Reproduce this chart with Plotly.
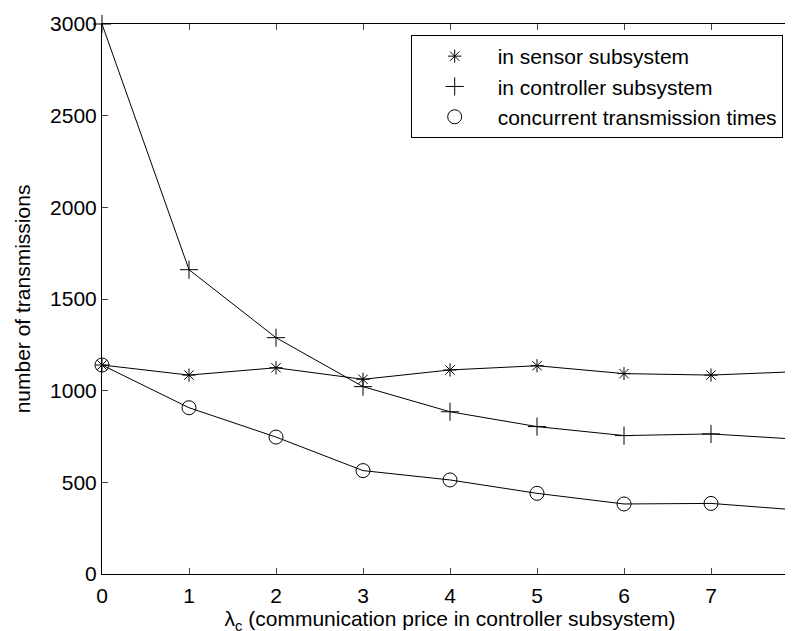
import plotly.graph_objects as go

x_vals = [0, 1, 2, 3, 4, 5, 6, 7, 8]
sensor = [1140, 1085, 1125, 1062, 1113, 1136, 1093, 1085, 1104]
controller = [3000, 1660, 1289, 1022, 885, 804, 755, 764, 735]
concurrent = [1140, 907, 747, 564, 513, 440, 382, 385, 349]
y_ticks = [0, 500, 1000, 1500, 2000, 2500, 3000]

names = ["in sensor subsystem", "in controller subsystem", "concurrent transmission times"]
symbols = ["asterisk-open", "cross-thin-open", "circle-open"]
sizes = [11, 13, 14]
series = [sensor, controller, concurrent]

fig = go.Figure()
for s, sym, sz in zip(series, symbols, sizes):
    fig.add_trace(go.Scatter(
        x=x_vals, y=s, mode="lines+markers",
        line=dict(color="black", width=1),
        marker=dict(symbol=sym, size=sz, color="black", line=dict(color="black", width=1)),
        showlegend=False, cliponaxis=False))
for n, sym, sz in zip(names, symbols, sizes):
    fig.add_trace(go.Scatter(
        x=[None], y=[None], mode="markers", name=n,
        marker=dict(symbol=sym, size=sz, color="black", line=dict(color="black", width=1))))

font = dict(family="Liberation Sans, Arial, sans-serif", size=21, color="black")
fig.update_layout(
    width=793, height=631,
    margin=dict(l=94, r=3, t=16, b=65),
    paper_bgcolor="white", plot_bgcolor="white",
    font=font,
    legend=dict(x=0.978, y=0.98, xanchor="right", yanchor="top",
                bordercolor="black", borderwidth=1, bgcolor="white",
                font=dict(size=21), tracegroupgap=0, itemwidth=76),
    xaxis=dict(range=[0, 8], tickvals=x_vals, ticks="inside", ticklen=6,
               showline=True, linecolor="black", linewidth=1, mirror="ticks",
               showgrid=False, zeroline=False, ticklabeloverflow="allow",
               automargin=False, ticklabelstandoff=3,
               title=dict(text="λ<sub>c</sub> (communication price in controller subsystem)",
                          font=dict(size=21), standoff=3)),
    yaxis=dict(range=[0, 3000], tickvals=y_ticks, ticks="inside", ticklen=6,
               showline=True, linecolor="black", linewidth=1, mirror="ticks",
               showgrid=False, zeroline=False, automargin=False,
               title=dict(text="number of transmissions", font=dict(size=21), standoff=13)),
)
fig.write_html("out.html")
